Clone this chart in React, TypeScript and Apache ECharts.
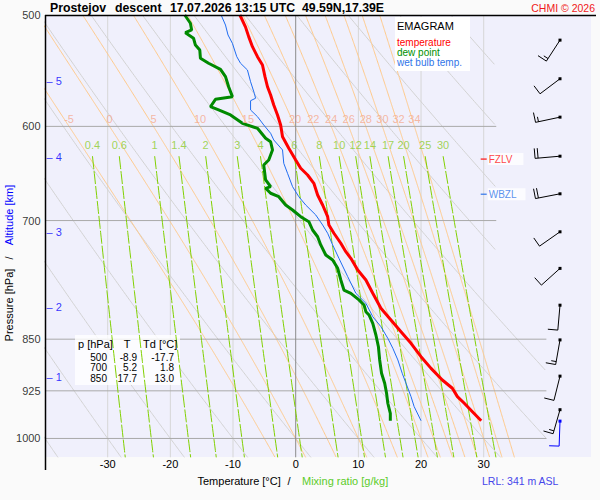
import React, { useEffect, useRef } from 'react';
import * as echarts from 'echarts';

// ---- sounding data (pressure hPa, temperature °C) ----
const tempP = [500,510,518,526.6,535.3,542.6,553.1,562.3,569.9,579.4,588.9,598.6,610.2,621.9,633.9,642.6,649.7,658.6,671.3,682.4,695.6,705.1,714.7,726.5,736.6,744.6,759.0,771.5,788.5,808.1,823.7,839.6,855.8,874.7,891.6,908.7,921.1,933.8,944.0,957.1,971.4];
const tempT = [-8.9,-8.0,-7.5,-6.9,-6.1,-5.3,-4.9,-4.5,-4.0,-3.5,-2.9,-2.4,-2.1,-1.1,0.0,0.8,1.9,2.9,3.5,4.3,5.1,5.3,6.1,7.2,8.0,8.8,9.9,11.2,12.3,13.6,15.2,16.8,18.4,20.0,21.6,23.4,25.0,25.8,26.9,28.2,29.6];

const dewP = [500,506.8,512.4,514.7,519.4,525.2,529.5,536.7,541.1,546.5,553.1,562.3,571.5,574.0,581.0,584.1,588.9,597.0,601.9,611.8,615.3,623.6,633.9,639.1,655.0,662.2,664.0,669.4,673.2,682.4,688.0,695.6,701.3,710.9,718.8,728.5,740.6,746.7,756.9,771.5,784.3,788.5,797.1,803.7,812.6,817.0,828.2,844.2,860.6,879.4,898.8,913.6,928.7,944.0,959.6,971.4];
const dewT = [-17.7,-16.8,-16.6,-17.6,-16.3,-16.0,-15.3,-15.2,-13.9,-12.0,-11.2,-10.7,-10.1,-12.8,-13.6,-12.3,-10.4,-8.5,-6.1,-4.8,-4.0,-3.7,-4.3,-5.1,-4.8,-4.0,-4.8,-4.0,-2.7,-1.6,-0.5,0.8,2.1,2.7,3.5,4.0,4.8,5.9,6.7,7.2,7.7,8.8,10.1,10.9,11.2,11.7,12.3,12.8,13.2,13.4,13.7,14.2,14.5,14.7,15.1,15.1];

const wetP = [500,508.3,516.6,523.7,535.3,541.1,547.1,557.7,568.4,573.0,575.3,584.1,590.5,598.6,606.8,613.5,623.6,637.4,647.9,662.2,673.2,682.4,693.6,705.1,714.7,728.5,744.6,767.3,788.5,801.5,819.3,832.8,848.8,862.8,879.4,898.8,913.6,933.8,949.1,971.4];
const wetT = [-11.9,-11.2,-10.8,-10.1,-9.4,-8.8,-7.7,-7.2,-6.6,-6.4,-7.2,-7.2,-6.1,-5.1,-4.0,-3.5,-2.1,-1.9,-1.3,-0.5,0.5,1.6,3.2,4.3,5.1,5.9,6.9,8.3,9.6,11.2,12.3,13.6,14.7,15.5,16.3,17.0,17.6,18.4,18.9,20.0];

// ---- wind (pressure, direction deg, speed kt) ----
const windP = [521, 555, 591, 630, 670, 713, 757, 804, 851, 903, 954];
const windDir = [213, 233, 258, 265, 259, 235, 228, 185, 190, 194, 196];
const windSpd = [15, 10, 15, 20, 20, 10, 10, 10, 15, 10, 15];
const sfcWindP = [972];
const sfcWindDir = [182];
const sfcWindSpd = [10];

// ---- table ----
const tableP = ['500', '700', '850'];
const tableT = ['-8.9', '5.2', '17.7'];
const tableTd = ['-17.7', '1.8', '13.0'];

// ---- diagram grid definitions ----
const pressureTicks = [500, 600, 700, 850, 925, 1000];
const isobarP = [600, 700, 850, 925, 1000];
const isothermT = [-30, -20, -10, 0, 10, 20, 30];
const xTickLabels = [-30, -20, -10, 0, 10, 20, 30];
const dryT1000 = [-40, -30, -20, -10, 0, 10, 20, 30, 40, 50, 60, 70, 80, 90];
const moistThetaW = [-5, 0, 5, 10, 15, 20, 22, 24, 26, 28, 30, 32, 34];
const mixRatios = [0.4, 0.6, 1, 1.4, 2, 3, 4, 6, 8, 10, 12, 14, 17, 20, 25, 30];
const altitudeKm = [1, 2, 3, 4, 5];
const altitudeP = [904, 806, 713, 631, 557];
const fzlvP = 633;
const wbzlP = 670.5;

const P_TOP = 500;
const P_BOT = 1030.8;
const T_MIN = -40;
const T_MAX = 47.12;

const FONT = '"Liberation Sans", Arial, Helvetica, sans-serif';
const ln = Math.log;

function tMax(p: number) { return p < 810 ? 32 : 40; }
function es(tc: number) { return 6.112 * Math.exp((17.67 * tc) / (tc + 243.5)); }
function dewFromMix(w: number, p: number) {
  const e = (w * p) / (622 + w);
  const a = Math.log(e / 6.112);
  return (243.5 * a) / (17.67 - a);
}
function moistDTdp(p: number, tk: number) {
  const e = es(tk - 273.15);
  const rs = (0.622 * e) / (p - e);
  const Rd = 287.04, Cp = 1005.7, L = 2.501e6;
  return (Rd * tk + L * rs) / (p * (Cp + (L * L * rs * 0.622) / (Rd * tk * tk)));
}
function moistCurve(thw: number): [number, number][] {
  const up: [number, number][] = [];
  let T = thw + 273.15;
  up.push([1000, T]);
  for (let p = 1000; p > P_TOP; p -= 1) {
    const k1 = moistDTdp(p, T);
    const k2 = moistDTdp(p - 0.5, T - 0.5 * k1);
    T -= k2;
    up.push([p - 1, T]);
  }
  const down: [number, number][] = [];
  T = thw + 273.15;
  for (let p = 1000; p < 1032; p += 1) {
    const k1 = moistDTdp(p, T);
    const k2 = moistDTdp(p + 0.5, T + 0.5 * k1);
    T += k2;
    down.push([p + 1, T]);
  }
  return [...up.reverse(), ...down].map(([p, t]) => [t - 273.15, p]);
}
function clipData(pts: [number, number][]) {
  return pts.map(([t, p]) => (t <= tMax(p) + 1e-9 ? [t, ln(p)] : '-'));
}
function profile(ps: number[], ts: number[]) {
  return ps.map((p, i) => [ts[i], ln(p)]);
}

function bgLine(data: any[], color: string, z = 1, width = 1, type: any = 'solid') {
  return {
    type: 'line', data, silent: true, symbol: 'none', showSymbol: false, z,
    connectNulls: false, clip: true, animation: false,
    lineStyle: { color, width, type },
  };
}

function barbSeries(ps: number[], dirs: number[], spds: number[], color: string) {
  return {
    type: 'custom', z: 6, silent: true, clip: false, animation: false,
    data: ps.map((p, i) => [0, ln(p), dirs[i], spds[i]]),
    encode: { x: 0, y: 1 },
    renderItem: (params: any, api: any) => {
      const c = api.coord([api.value(0), api.value(1)]);
      const cs = params.coordSys;
      const x0 = cs.x + cs.width - 31;
      const y0 = c[1];
      const d = (api.value(2) * Math.PI) / 180;
      const dx = Math.sin(d), dy = -Math.cos(d);
      const L = 25;
      const ex = x0 + L * dx, ey = y0 + L * dy;
      const fx = -dy, fy = dx;
      const children: any[] = [
        { type: 'line', shape: { x1: x0, y1: y0, x2: ex, y2: ey }, style: { stroke: color, lineWidth: 1 } },
      ];
      let s = api.value(3);
      let k = 0;
      while (s >= 10) {
        const bx = ex - k * 3 * dx, by = ey - k * 3 * dy;
        children.push({ type: 'line', shape: { x1: bx, y1: by, x2: bx + 10 * fx, y2: by + 10 * fy }, style: { stroke: color, lineWidth: 1 } });
        s -= 10; k++;
      }
      if (s >= 5) {
        const bx = ex - k * 3 * dx, by = ey - k * 3 * dy;
        children.push({ type: 'line', shape: { x1: bx, y1: by, x2: bx + 5 * fx, y2: by + 5 * fy }, style: { stroke: color, lineWidth: 1 } });
      }
      children.push({ type: 'rect', shape: { x: x0 - 1.5, y: y0 - 1.5, width: 3, height: 3 }, style: { fill: color } });
      return { type: 'group', children };
    },
  };
}

function labelScatter(data: any[], fmt: (v: any) => string, label: any, z = 6, extra: any = {}) {
  return {
    type: 'scatter', data, z, silent: true, animation: false, clip: false,
    symbolSize: 1, itemStyle: { color: 'rgba(0,0,0,0)' },
    label: { show: true, fontFamily: FONT, formatter: (p: any) => fmt(p.value), ...label },
    ...extra,
  };
}

function txt(text: string, x: number, y: number, o: any = {}) {
  const align = o.align || 'left';
  const style: any = {
    text, fill: o.color || '#000', fontSize: o.size || 11, fontFamily: FONT,
    fontWeight: o.bold ? 'bold' : 'normal',
    align, textAlign: align, verticalAlign: 'middle', textVerticalAlign: 'middle',
  };
  if (o.lineHeight) style.lineHeight = o.lineHeight;
  return { type: 'text', x, y, z: 100, rotation: o.rotation || 0, style };
}

export default function App() {
  const ref = useRef<HTMLDivElement>(null);
  useEffect(() => {
    if (!ref.current) return;
    const chart = echarts.init(ref.current, undefined, { renderer: 'svg' });
    const series: any[] = [];

    // isotherms
    isothermT.forEach((t) => {
      series.push(bgLine([[t, ln(P_TOP)], [t, ln(P_BOT + 1)]], t === 0 ? '#8c8c8c' : '#d6d6d6', t === 0 ? 1.5 : 1));
    });
    // dry adiabats
    dryT1000.forEach((t0) => {
      const pts: [number, number][] = [];
      for (let p = P_TOP; p <= 1032; p += 2) pts.push([(t0 + 273.15) * Math.pow(p / 1000, 0.2857) - 273.15, p]);
      series.push(bgLine(clipData(pts), '#d2d2d2'));
    });
    // moist adiabats
    const moistLabelData: any[] = [];
    moistThetaW.forEach((th) => {
      const pts = moistCurve(th);
      series.push(bgLine(clipData(pts), '#ffc98a'));
      const at600 = pts.find((q) => Math.abs(q[1] - 600) < 0.01);
      if (at600) moistLabelData.push([at600[0], ln(600), th]);
    });
    // isobars
    isobarP.forEach((p) => {
      series.push(bgLine([[T_MIN, ln(p)], [tMax(p), ln(p)]], '#a9a9a9', 1));
    });
    // mixing ratio lines
    const mixLabelData: any[] = [];
    mixRatios.forEach((w) => {
      const pts: [number, number][] = [];
      for (let p = 630; p <= 1032; p += 6) pts.push([dewFromMix(w, p), p]);
      series.push(bgLine(clipData(pts), '#80d000', 3, 1, [13, 2]));
      mixLabelData.push([dewFromMix(w, 630), ln(630), w]);
    });

    // profiles
    series.push({ type: 'line', data: profile(wetP, wetT), symbol: 'none', z: 5, silent: true, animation: false, lineStyle: { color: '#1f6cf0', width: 1 } });
    series.push({ type: 'line', data: profile(dewP, dewT), symbol: 'none', z: 5, silent: true, animation: false, lineStyle: { color: '#008a00', width: 3 } });
    series.push({ type: 'line', data: profile(tempP, tempT), symbol: 'none', z: 5, silent: true, animation: false, lineStyle: { color: '#ff0000', width: 3 } });

    // labels
    series.push(labelScatter(moistLabelData, (v) => String(v[2]), { position: 'top', distance: 1, color: '#f5a88c', fontSize: 11 }));
    series.push(labelScatter(mixLabelData, (v) => String(v[2]), { position: 'top', distance: 5, color: '#8ccc2a', fontSize: 11 }));
    series.push(labelScatter(pressureTicks.map((p) => [T_MIN, ln(p), p]), (v) => String(v[2]), { position: 'left', distance: 4, color: '#000', fontSize: 11 }));
    series.push(labelScatter(altitudeKm.map((k, i) => [T_MIN, ln(altitudeP[i]), k]), (v) => '\u2013 ' + v[2], { position: 'right', distance: 1, color: '#0000ff', fontSize: 11 }));

    // freezing level / wet bulb zero
    const lvl = (p: number, name: string, color: string, padR: number) => ({
      type: 'scatter', data: [[30, ln(p)]], z: 6, silent: true, animation: false, clip: false,
      symbol: 'rect', symbolSize: [6, 1.5], itemStyle: { color },
      label: { show: true, position: 'right', distance: 1, formatter: name, color, fontSize: 10, fontFamily: FONT, backgroundColor: '#ffffff', padding: [1, padR, 1, 1] },
    });
    series.push(lvl(fzlvP, 'FZLV', '#ff1010', 11));
    series.push(lvl(wbzlP, 'WBZL', '#2f74e8', 9));

    // wind barbs
    series.push(barbSeries(windP, windDir, windSpd, '#000000'));
    series.push(barbSeries(sfcWindP, sfcWindDir, sfcWindSpd, '#0000ff'));

    const rowY = (i: number) => 357 + i * 10.8;
    const graphic: any[] = [
      // frame
      { type: 'line', z: 100, shape: { x1: 45.5, y1: 15, x2: 45.5, y2: 470 }, style: { stroke: '#000', lineWidth: 1.5 } },
      { type: 'line', z: 100, shape: { x1: 45, y1: 15.5, x2: 596, y2: 15.5 }, style: { stroke: '#000', lineWidth: 1.5 } },
      // legend box
      { type: 'rect', z: 4, shape: { x: 395, y: 17, width: 75, height: 54 }, style: { fill: '#ffffff' } },
      txt('EMAGRAM', 397, 26, { size: 11 }),
      txt('temperature', 397, 42.5, { size: 10, color: '#ff0000', lineHeight: 10 }),
      txt('dew point', 397, 52.5, { size: 10, color: '#009000', lineHeight: 10 }),
      txt('wet bulb temp.', 397, 62.5, { size: 10, color: '#2f74e8', lineHeight: 10 }),
      // table
      { type: 'rect', z: 2, shape: { x: 75, y: 335, width: 105, height: 50 }, style: { fill: 'rgba(255,255,255,0.8)' } },
      txt('p [hPa]', 78, 343.5),
      txt('T', 127, 343.5, { align: 'center' }),
      txt('Td [°C]', 143, 343.5),
      ...tableP.map((v, i) => txt(v, 107, rowY(i), { align: 'right', size: 10, lineHeight: 10 })),
      ...tableT.map((v, i) => txt(v, 137, rowY(i), { align: 'right', size: 10, lineHeight: 10 })),
      ...tableTd.map((v, i) => txt(v, 174, rowY(i), { align: 'right', size: 10, lineHeight: 10 })),
      // title
      txt('Prostejov', 50, 8, { bold: true, size: 12.3 }),
      txt('descent', 115, 8, { bold: true, size: 12.3 }),
      txt('17.07.2026 13:15 UTC', 170, 8, { bold: true, size: 12.3 }),
      txt('49.59N,17.39E', 302, 8, { bold: true, size: 12.3 }),
      txt('CHMI © 2026', 595, 8, { align: 'right', size: 10.5, color: '#f01818' }),
      // axis titles
      txt('Temperature [°C]', 197.5, 480.5),
      txt('/', 289, 480.5, { align: 'center' }),
      txt('Mixing ratio [g/kg]', 302, 480.5, { color: '#5ccc2a' }),
      txt('Pressure [hPa]', 9, 305, { align: 'center', rotation: Math.PI / 2 }),
      txt('/', 9, 258, { align: 'center', rotation: Math.PI / 2 }),
      txt('Altitude [km]', 9, 215, { align: 'center', rotation: Math.PI / 2, color: '#0000ff' }),
      txt('LRL: 341 m ASL', 482, 481, { size: 10.5, color: '#4646ea' }),
    ];

    chart.setOption({
      animation: false,
      backgroundColor: '#fafafa',
      grid: { left: 45, top: 15, width: 546, height: 442, show: true, backgroundColor: '#f0f0fc', borderWidth: 0, containLabel: false, outerBoundsMode: 'none' },
      xAxis: {
        type: 'value', min: T_MIN, max: T_MAX, interval: 10,
        axisLine: { show: false }, axisTick: { show: false }, splitLine: { show: false },
        axisLabel: {
          margin: 1, color: '#000', fontSize: 11, fontFamily: FONT,
          formatter: (v: number) => (xTickLabels.some((t) => Math.abs(t - v) < 1e-6) ? String(Math.round(v)) : ''),
        },
      },
      yAxis: {
        type: 'value', inverse: true, min: ln(P_TOP), max: ln(P_BOT), show: false,
        splitLine: { show: false },
      },
      series,
      graphic,
    });
    return () => chart.dispose();
  }, []);
  return <div ref={ref} style={{ position: 'fixed', left: 0, top: 0, width: 600, height: 500, background: '#fafafa' }} />;
}
